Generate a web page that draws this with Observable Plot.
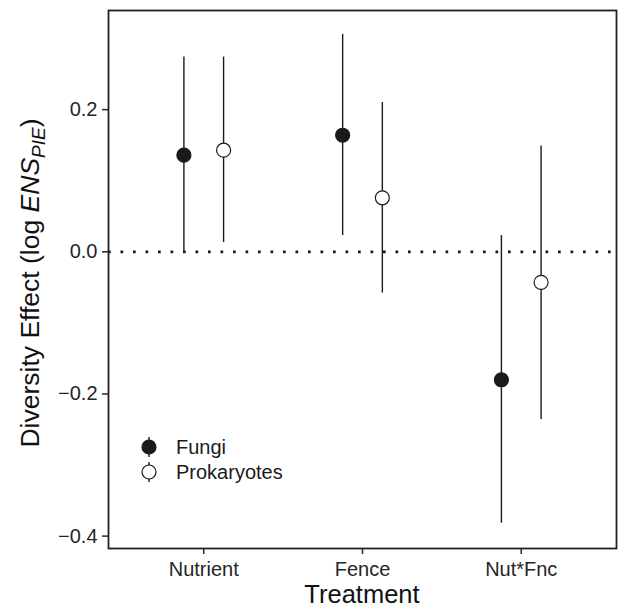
<!DOCTYPE html>
<html><head><meta charset="utf-8">
<script src="https://cdn.jsdelivr.net/npm/d3@7"></script>
<script src="https://cdn.jsdelivr.net/npm/@observablehq/plot@0.6"></script>
<style>
body{margin:0;background:#fff}
#chart{width:620px;height:607px}
</style>
</head><body><div id="chart"></div>
<script>
// ---- data ----
const treatments = ["Nutrient", "Fence", "Nut*Fnc"];
const series = ["Fungi", "Prokaryotes"];
const fungiMean = [0.136, 0.164, -0.180];
const fungiLow  = [0.000, 0.023, -0.382];
const fungiHigh = [0.274, 0.306, 0.023];
const prokMean  = [0.143, 0.076, -0.043];
const prokLow   = [0.013, -0.058, -0.236];
const prokHigh  = [0.274, 0.210, 0.149];
const yTicks = [-0.4, -0.2, 0, 0.2];
const dodge = 0.125;   // position_dodge half-width

// ---- table ----
const rows = [];
treatments.forEach((t, i) => {
  rows.push({treatment: t, series: series[0], x: i + 1 - dodge, mean: fungiMean[i], low: fungiLow[i], high: fungiHigh[i]});
  rows.push({treatment: t, series: series[1], x: i + 1 + dodge, mean: prokMean[i], low: prokLow[i], high: prokHigh[i]});
});

const W = 620, H = 607, ML = 108, MR = 4, MT = 10, MB = 59;
const font = "'Liberation Sans', Arial, Helvetica, sans-serif";
const ink = "#1a1a1a";

const plot = Plot.plot({
  width: W, height: H,
  marginLeft: ML, marginRight: MR, marginTop: MT, marginBottom: MB,
  style: {fontFamily: font, fontSize: "20px", color: "#262626", background: "#fff", overflow: "visible"},
  x: {domain: [0.4, 3.6], label: null},
  y: {domain: [-0.4174, 0.3395], label: null},
  color: {domain: series, range: [ink, "#ffffff"]},
  marks: [
    Plot.ruleY([0], {stroke: ink, strokeWidth: 2.7, strokeDasharray: "2.7 9.8"}),
    Plot.ruleX(rows, {x: "x", y1: "low", y2: "high", stroke: ink, strokeWidth: 1.4}),
    Plot.dot(rows, {x: "x", y: "mean", r: 7, fill: "series", stroke: ink, strokeWidth: 1.2}),
    Plot.axisX({ticks: [1, 2, 3], tickFormat: d => treatments[d - 1], tickSize: 6, tickPadding: 7, strokeWidth: 1.6, stroke: "#333", label: null}),
    Plot.axisY({ticks: yTicks, tickFormat: d3.format(".1f"), tickSize: 6, tickPadding: 5, strokeWidth: 1.6, stroke: "#333", label: null}),
    Plot.frame({stroke: "#222", strokeWidth: 1.8})
  ]
});
document.getElementById("chart").appendChild(plot);

const svg = d3.select(plot);

// y axis title with italic ENS and subscript PIE
const yt = svg.append("text")
  .attr("transform", `translate(39,${(MT + (H - MB)) / 2 + 4}) rotate(-90)`)
  .attr("text-anchor", "middle")
  .attr("font-family", font)
  .attr("font-size", 26.5)
  .attr("fill", "#111");
yt.append("tspan").text("Diversity Effect (log ");
yt.append("tspan").attr("font-style", "italic").text("ENS");
yt.append("tspan").attr("font-style", "italic").attr("font-size", 19).attr("dy", 6).text("PIE");
yt.append("tspan").attr("dy", -6).text(")");

// x axis title
svg.append("text")
  .attr("x", ML + (W - ML - MR) / 2)
  .attr("y", 603)
  .attr("text-anchor", "middle")
  .attr("font-family", font)
  .attr("font-size", 25.5)
  .attr("fill", "#111")
  .text("Treatment");

// legend inside panel (bottom-left)
const legX = ML + 41, legY0 = (H - MB) - 101, legStep = 25;
const fills = [ink, "#ffffff"];
series.forEach((s, i) => {
  const cy = legY0 + i * legStep;
  const g = svg.append("g");
  g.append("line").attr("x1", legX).attr("x2", legX).attr("y1", cy - 10).attr("y2", cy + 10)
    .attr("stroke", ink).attr("stroke-width", 1.4);
  g.append("circle").attr("cx", legX).attr("cy", cy).attr("r", 7)
    .attr("fill", fills[i]).attr("stroke", ink).attr("stroke-width", 1.2);
  g.append("text").attr("x", legX + 27).attr("y", cy + 7)
    .attr("text-anchor", "start")
    .attr("font-family", font).attr("font-size", 20).attr("fill", ink).text(s);
});
</script>
</body></html>
